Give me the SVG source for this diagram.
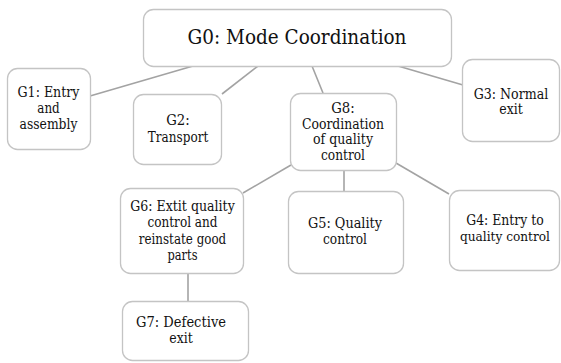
<svg xmlns="http://www.w3.org/2000/svg" width="561" height="363" viewBox="0 0 561 363">
<style>
.box{fill:#fff;stroke:#c4c4c4;stroke-width:1.3}
.t{font-family:'DejaVu Serif','Liberation Serif','Times New Roman',serif;font-size:14.4px;fill:#111;text-anchor:middle}
.big{font-size:20.8px}
.sm{font-size:13.2px}
.c{stroke:#a3a3a3;stroke-width:1.6;fill:none}
</style>
<rect width="561" height="363" fill="#fff"/>
<g id="connectors">
<line class="c" x1="193" y1="66" x2="90" y2="96"/>
<line class="c" x1="258" y1="66" x2="222" y2="94"/>
<line class="c" x1="312" y1="66" x2="323" y2="93"/>
<line class="c" x1="398" y1="66" x2="463" y2="85"/>
<line class="c" x1="291" y1="165" x2="243" y2="193"/>
<line class="c" x1="344" y1="171" x2="344" y2="192"/>
<line class="c" x1="396" y1="163" x2="449" y2="194"/>
<line class="c" x1="188" y1="273" x2="188" y2="301"/>
</g>
<g id="G0">
<rect class="box" x="143.5" y="9.5" width="308" height="57" rx="10"/>
<text class="t big" x="297" y="44" textLength="219" lengthAdjust="spacingAndGlyphs">G0: Mode Coordination</text>
</g>
<g id="G1">
<rect class="box" x="7.5" y="68.5" width="83" height="81" rx="10"/>
<text class="t" x="48.5" y="97" textLength="62" lengthAdjust="spacingAndGlyphs">G1: Entry</text>
<text class="t" x="48.5" y="113" textLength="22.5" lengthAdjust="spacingAndGlyphs">and</text>
<text class="t" x="48.5" y="128.5" textLength="58" lengthAdjust="spacingAndGlyphs">assembly</text>
</g>
<g id="G2">
<rect class="box" x="133.5" y="94.5" width="88" height="70" rx="10"/>
<text class="t" x="178" y="125" textLength="23.5" lengthAdjust="spacingAndGlyphs">G2:</text>
<text class="t" x="178" y="141.5" textLength="60.5" lengthAdjust="spacingAndGlyphs">Transport</text>
</g>
<g id="G8">
<rect class="box" x="290.5" y="93.5" width="106" height="77" rx="10"/>
<text class="t" x="343" y="113" textLength="23.5" lengthAdjust="spacingAndGlyphs">G8:</text>
<text class="t" x="343" y="128.5" textLength="82" lengthAdjust="spacingAndGlyphs">Coordination</text>
<text class="t" x="343" y="144" textLength="60" lengthAdjust="spacingAndGlyphs">of quality</text>
<text class="t" x="343" y="160" textLength="44" lengthAdjust="spacingAndGlyphs">control</text>
</g>
<g id="G3">
<rect class="box" x="462.5" y="59.5" width="97" height="82" rx="10"/>
<text class="t" x="511" y="98.5" textLength="74.5" lengthAdjust="spacingAndGlyphs">G3: Normal</text>
<text class="t" x="511" y="114" textLength="23.5" lengthAdjust="spacingAndGlyphs">exit</text>
</g>
<g id="G6">
<rect class="box" x="120.5" y="188.5" width="123" height="85" rx="10"/>
<text class="t" x="182.5" y="210.5" textLength="104.5" lengthAdjust="spacingAndGlyphs">G6: Extit quality</text>
<text class="t" x="182.5" y="227" textLength="70" lengthAdjust="spacingAndGlyphs">control and</text>
<text class="t" x="182.5" y="243.5" textLength="87.5" lengthAdjust="spacingAndGlyphs">reinstate good</text>
<text class="t" x="182.5" y="260" textLength="30" lengthAdjust="spacingAndGlyphs">parts</text>
</g>
<g id="G5">
<rect class="box" x="288.5" y="191.5" width="115" height="82" rx="10"/>
<text class="t" x="345" y="228" textLength="74" lengthAdjust="spacingAndGlyphs">G5: Quality</text>
<text class="t" x="345" y="244" textLength="44" lengthAdjust="spacingAndGlyphs">control</text>
</g>
<g id="G4">
<rect class="box" x="449.5" y="190.5" width="110" height="80" rx="10"/>
<text class="t" x="505" y="225" textLength="77.5" lengthAdjust="spacingAndGlyphs">G4: Entry to</text>
<text class="t sm" x="505" y="241" textLength="90" lengthAdjust="spacingAndGlyphs">quality control</text>
</g>
<g id="G7">
<rect class="box" x="122.5" y="301.5" width="126" height="59" rx="10"/>
<text class="t" x="181" y="326.5" textLength="90" lengthAdjust="spacingAndGlyphs">G7: Defective</text>
<text class="t" x="181" y="343" textLength="23.5" lengthAdjust="spacingAndGlyphs">exit</text>
</g>
</svg>
